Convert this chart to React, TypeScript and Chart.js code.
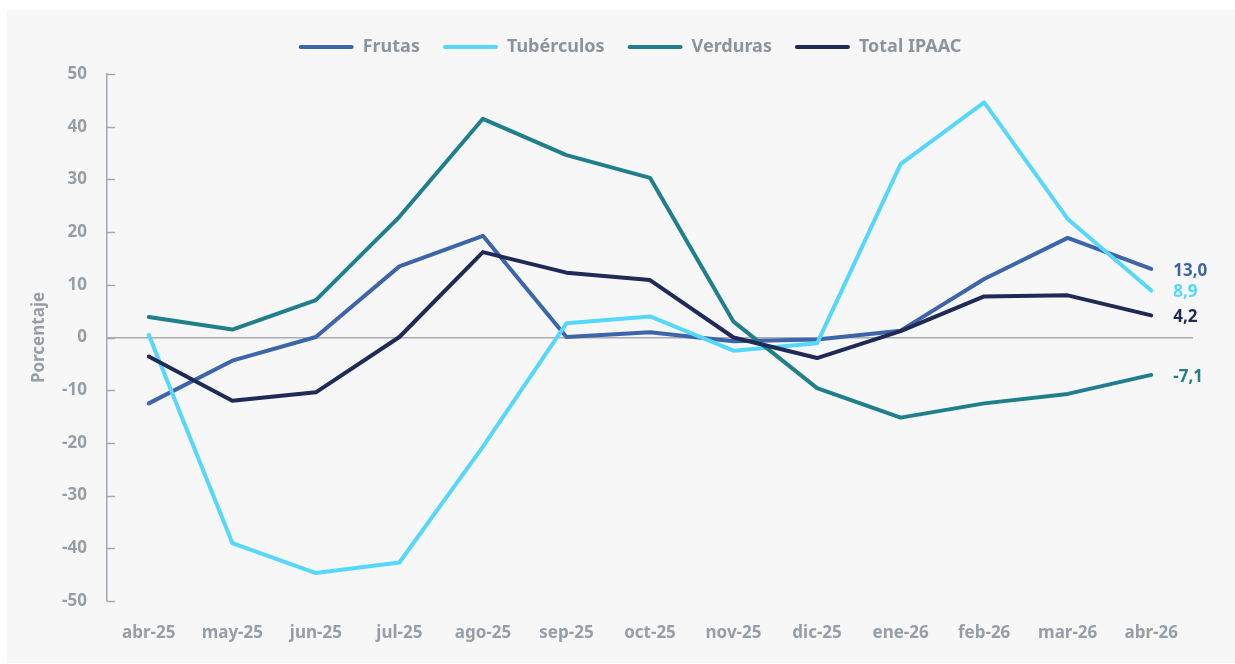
import { useEffect, useRef } from 'react';
import { Chart, registerables } from 'chart.js';
Chart.register(...registerables);

const categories = ['abr-25', 'may-25', 'jun-25', 'jul-25', 'ago-25', 'sep-25', 'oct-25', 'nov-25', 'dic-25', 'ene-26', 'feb-26', 'mar-26', 'abr-26'];
const frutas = [-12.5, -4.4, 0.1, 13.5, 19.3, 0.1, 1.0, -0.7, -0.4, 1.3, 11.1, 18.9, 13.0];
const tuberculos = [0.5, -39.0, -44.7, -42.7, -20.7, 2.7, 4.0, -2.5, -1.1, 32.9, 44.6, 22.5, 8.9];
const verduras = [3.9, 1.5, 7.1, 22.9, 41.5, 34.6, 30.3, 3.0, -9.6, -15.2, -12.5, -10.7, -7.1];
const totalIpaac = [-3.6, -12.0, -10.4, 0.1, 16.2, 12.3, 10.9, 0.0, -3.9, 1.2, 7.8, 8.0, 4.2];
const seriesNames = ['Frutas', 'Tubérculos', 'Verduras', 'Total IPAAC'];
const seriesColors = ['#3d65aa', '#56d7fd', '#1f7f8b', '#1f2a56'];
const yMin = -50;
const yMax = 50;
const yStep = 10;
const yTitle = 'Porcentaje';

const FONT = "'Noto Sans', sans-serif";
const GRAY = '#979ea6';
const AXIS = '#a3a9b0';

export default function App() {
  const ref = useRef<HTMLCanvasElement>(null);

  useEffect(() => {
    const seriesData = [frutas, tuberculos, verduras, totalIpaac];

    const legendSpace = {
      id: 'legendSpace',
      beforeInit(chart: any) {
        const lg = chart.legend;
        if (!lg) return;
        const orig = lg.fit;
        lg.fit = function () {
          orig.call(this);
          this.height = 64;
        };
      },
      afterLayout(chart: any) {
        const lg = chart.legend;
        if (!lg) return;
        lg.left += 30;
        lg.right += 30;
        lg.top += 5;
        lg.bottom += 5;
      },
    };

    const innerTicks = {
      id: 'innerTicks',
      beforeDatasetsDraw(chart: any) {
        const { ctx, scales } = chart;
        const y = scales.y;
        const left = chart.chartArea.left;
        ctx.save();
        ctx.strokeStyle = AXIS;
        ctx.lineWidth = 1.5;
        y.ticks.forEach((t: any) => {
          const py = Math.round(y.getPixelForValue(t.value)) + 0.5;
          ctx.beginPath();
          ctx.moveTo(left, py);
          ctx.lineTo(left + 8, py);
          ctx.stroke();
        });
        ctx.restore();
      },
    };

    const endLabels = {
      id: 'endLabels',
      afterDatasetsDraw(chart: any) {
        const { ctx } = chart;
        ctx.save();
        ctx.font = `bold 17px ${FONT}`;
        ctx.textAlign = 'left';
        ctx.textBaseline = 'middle';
        chart.data.datasets.forEach((ds: any, i: number) => {
          const meta = chart.getDatasetMeta(i);
          const last = meta.data.length - 1;
          const pt = meta.data[last];
          const v = ds.data[last] as number;
          ctx.fillStyle = seriesColors[i];
          ctx.fillText(v.toFixed(1).replace('.', ','), pt.x + 22, pt.y + 2);
        });
        ctx.restore();
      },
    };

    const chart = new Chart(ref.current!, {
      type: 'line',
      data: {
        labels: categories,
        datasets: seriesNames.map((name, i) => ({
          label: name,
          data: seriesData[i],
          borderColor: seriesColors[i],
          backgroundColor: seriesColors[i],
          borderWidth: 4,
          pointRadius: 0,
          pointHoverRadius: 0,
          tension: 0,
          fill: false,
          borderCapStyle: 'round' as const,
          borderJoinStyle: 'round' as const,
          order: seriesNames.length - i,
        })),
      },
      options: {
        animation: false,
        responsive: false,
        maintainAspectRatio: false,
        layout: { padding: { top: 0, left: 0, right: 42, bottom: 0 } },
        plugins: {
          tooltip: { enabled: false },
          legend: {
            position: 'top',
            labels: {
              boxWidth: 55,
              boxHeight: 4,
              padding: 23,
              color: '#8c949c',
              font: { family: FONT, size: 18, weight: 'bold' },
              useBorderRadius: true,
              borderRadius: 2,
              sort: (a: any, b: any) => a.datasetIndex - b.datasetIndex,
              generateLabels: (chart: any) => {
                const items = Chart.defaults.plugins.legend.labels.generateLabels(chart);
                items.forEach((it: any) => { it.lineWidth = 0; it.strokeStyle = 'transparent'; });
                return items;
              },
            },
          },
        },
        scales: {
          x: {
            type: 'category',
            offset: true,
            grid: { display: false, drawTicks: false },
            border: { display: false },
            ticks: {
              color: GRAY,
              font: { family: FONT, size: 17, weight: 'bold' },
              padding: 22,
              maxRotation: 0,
              autoSkip: false,
            },
            afterFit: (s: any) => { s.height = 62; },
          },
          y: {
            min: yMin,
            max: yMax,
            ticks: {
              stepSize: yStep,
              color: GRAY,
              font: { family: FONT, size: 17, weight: 'bold' },
              padding: 20,
            },
            grid: {
              drawTicks: false,
              drawOnChartArea: true,
              color: (c: any) => (c.tick && c.tick.value === 0 ? '#a8acb2' : 'transparent'),
              lineWidth: 1.5,
            },
            border: { display: true, color: AXIS, width: 1.5 },
            title: {
              display: true,
              text: yTitle,
              color: GRAY,
              font: { family: FONT, size: 17, weight: 'bold' },
              padding: { top: 22, bottom: 0 },
            },
            afterFit: (s: any) => { s.width = 100; },
          },
        },
      },
      plugins: [legendSpace, innerTicks, endLabels],
    });
    return () => chart.destroy();
  }, []);

  return (
    <div style={{ position: 'fixed', left: 0, top: 0, width: 1235, height: 664, background: '#ffffff' }}>
      <div style={{ position: 'absolute', left: 7, top: 10, width: 1228, height: 653, background: '#f7f7f7' }}>
        <canvas ref={ref} width={1228} height={653} style={{ display: 'block', width: 1228, height: 653 }} />
      </div>
    </div>
  );
}
